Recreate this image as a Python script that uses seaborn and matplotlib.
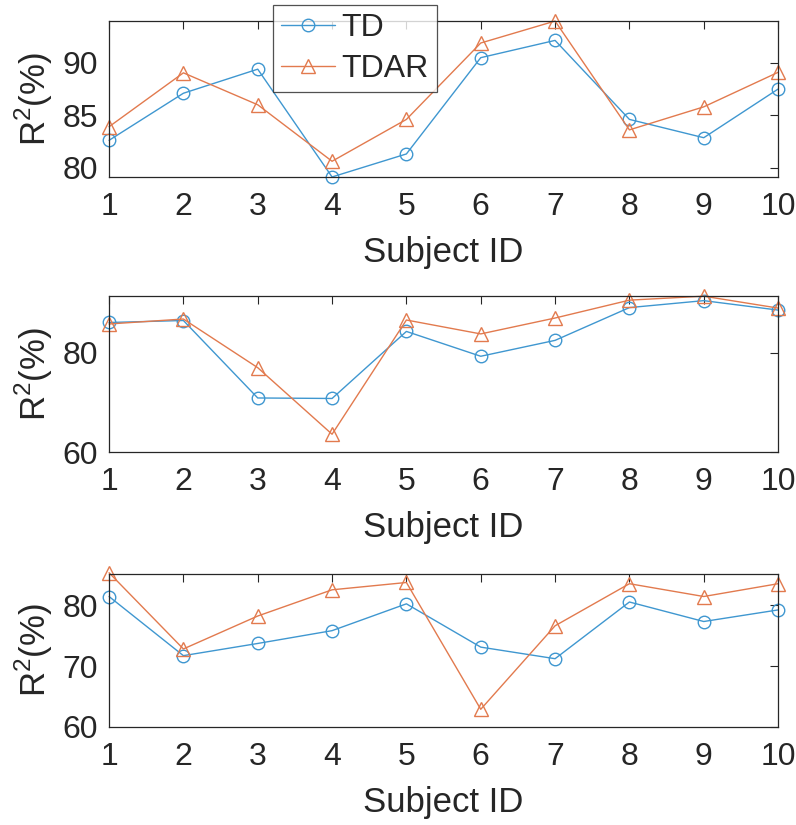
import matplotlib
matplotlib.use("Agg")
import matplotlib.pyplot as plt
import seaborn as sns
import numpy as np

subjects = list(range(1, 11))

td_1 = [82.6, 87.1, 89.4, 79.1, 81.3, 90.5, 92.15, 84.6, 82.85, 87.5]
tdar_1 = [83.9, 89.05, 86.0, 80.6, 84.6, 91.9, 94.0, 83.6, 85.8, 89.1]

td_2 = [86.1, 86.5, 70.9, 70.8, 84.3, 79.3, 82.5, 89.1, 90.5, 88.6]
tdar_2 = [85.8, 86.8, 77.0, 63.6, 86.6, 83.8, 87.0, 90.6, 91.4, 89.0]

td_3 = [81.4, 71.7, 73.7, 75.8, 80.2, 73.1, 71.2, 80.5, 77.3, 79.2]
tdar_3 = [85.3, 72.8, 78.2, 82.5, 83.7, 62.9, 76.6, 83.5, 81.4, 83.5]

series_labels = ["TD", "TDAR"]
xlabel_text = "Subject ID"
ylabel_text = "R$^2$(%)"

ylims = [(79.1, 94.0), (60, 91.4), (60, 85.1)]
yticks = [[80, 85, 90], [60, 80], [60, 70, 80]]

sns.set_theme(style="white")
plt.rcParams['font.family'] = ['Liberation Sans', 'DejaVu Sans']
plt.rcParams['mathtext.fontset'] = 'custom'
plt.rcParams['mathtext.rm'] = 'Liberation Sans'

c_td = "#3F97D0"
c_tdar = "#E27A4E"

fig = plt.figure(figsize=(7.96, 8.25), dpi=100)
positions = [
    [0.137, 0.7855, 0.8405, 0.189],
    [0.137, 0.452, 0.8405, 0.189],
    [0.137, 0.1188, 0.8405, 0.1855],
]
panels = [(td_1, tdar_1), (td_2, tdar_2), (td_3, tdar_3)]

axes = []
for i, (pos, (td, tdar)) in enumerate(zip(positions, panels)):
    ax = fig.add_axes(pos)
    axes.append(ax)
    sns.lineplot(x=subjects, y=td, ax=ax, color=c_td, marker='o', markersize=9,
                 markerfacecolor='none', markeredgecolor=c_td, markeredgewidth=1.0,
                 linewidth=1.0, label=series_labels[0], clip_on=False, legend=False)
    sns.lineplot(x=subjects, y=tdar, ax=ax, color=c_tdar, marker='^', markersize=10,
                 markerfacecolor='none', markeredgecolor=c_tdar, markeredgewidth=1.0,
                 linewidth=1.0, label=series_labels[1], clip_on=False, legend=False)
    ax.set_xlim(1, 10)
    ax.set_ylim(*ylims[i])
    ax.set_xticks(subjects)
    ax.set_yticks(yticks[i])
    ax.tick_params(axis='both', which='both', direction='in', length=6, width=0.8,
                   top=True, right=True, labelsize=23, colors='#262626')
    ax.tick_params(axis='x', pad=11)
    ax.tick_params(axis='y', pad=8)
    for s in ax.spines.values():
        s.set_visible(True)
        s.set_color('#262626')
        s.set_linewidth(0.9)
    ax.set_xlabel(xlabel_text, fontsize=25, color='#262626', labelpad=10)
    ax.set_ylabel(ylabel_text, fontsize=25, color='#262626', labelpad=5)

handles, labels = axes[0].get_legend_handles_labels()
leg = fig.legend(handles, labels, loc='upper left', bbox_to_anchor=(273 / 796, 1 - 5 / 825),
                 borderaxespad=0, fontsize=23, frameon=True, fancybox=False,
                 edgecolor='#262626', handlelength=1.7, handletextpad=0.2,
                 borderpad=0.25, labelspacing=0.35)
leg.get_frame().set_linewidth(0.9)

fig.savefig("out.png", dpi=100)
